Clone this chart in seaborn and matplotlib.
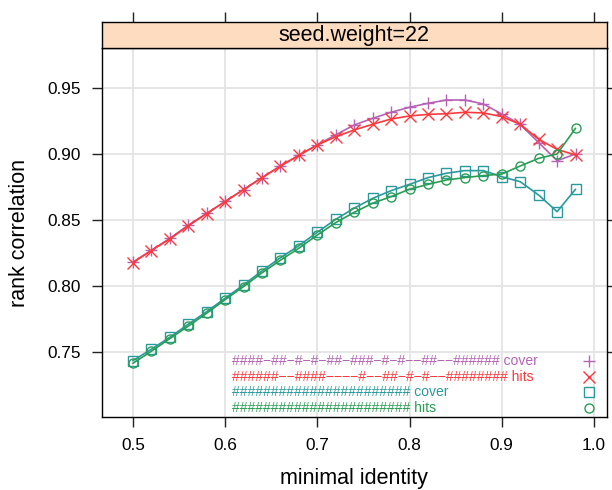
import matplotlib
matplotlib.use("Agg")
import matplotlib.pyplot as plt
import seaborn as sns
import pandas as pd
from matplotlib.ticker import FormatStrFormatter

# data (seed.weight=22)
identity = [0.50, 0.52, 0.54, 0.56, 0.58, 0.60, 0.62, 0.64, 0.66, 0.68,
            0.70, 0.72, 0.74, 0.76, 0.78, 0.80, 0.82, 0.84, 0.86, 0.88,
            0.90, 0.92, 0.94, 0.96, 0.98]
cover_gap = [0.818, 0.827, 0.836, 0.846, 0.855, 0.864, 0.873, 0.882, 0.891, 0.899,
             0.907, 0.9145, 0.922, 0.927, 0.9316, 0.9354, 0.9384, 0.9409, 0.9409, 0.9379,
             0.9303, 0.9225, 0.9086, 0.8949, 0.9000]
hits_gap = [0.8177, 0.8268, 0.8356, 0.8455, 0.8548, 0.8639, 0.8730, 0.8821, 0.8907, 0.8990,
            0.9068, 0.9131, 0.9182, 0.9225, 0.9265, 0.9288, 0.9300, 0.9305, 0.9316, 0.9311,
            0.9283, 0.9225, 0.9111, 0.9035, 0.8992]
cover_full = [0.7434, 0.7520, 0.7611, 0.7710, 0.7805, 0.7907, 0.8008, 0.8114, 0.8214, 0.8305,
              0.8407, 0.8505, 0.8589, 0.8664, 0.8722, 0.8770, 0.8821, 0.8854, 0.8874, 0.8874,
              0.8828, 0.8790, 0.8689, 0.8563, 0.8733]
hits_full = [0.7414, 0.7505, 0.7601, 0.7695, 0.7793, 0.7896, 0.7995, 0.8099, 0.8195, 0.8286,
             0.8386, 0.8480, 0.8558, 0.8627, 0.8677, 0.8733, 0.8770, 0.8803, 0.8821, 0.8836,
             0.8848, 0.8909, 0.8967, 0.9000, 0.9195]

labels = ["####−##−#−#−##−###−#−#−−##−−###### cover",
          "######−−####−−−−#−−##−#−#−−######## hits",
          "####################### cover",
          "####################### hits"]
colors = ["#b763b5", "#fb3a3e", "#2b9a9c", "#2a9d55"]
markers = ["+", "x", "s", "o"]
series = [cover_gap, hits_gap, cover_full, hits_full]

sns.set_style("white")
plt.rcParams["font.family"] = ["Liberation Sans", "DejaVu Sans"]
plt.rcParams["text.color"] = "black"
plt.rcParams["axes.labelcolor"] = "black"
plt.rcParams["xtick.color"] = "black"
plt.rcParams["ytick.color"] = "black"

fig = plt.figure(figsize=(6.12, 4.90), dpi=100)
ax = fig.add_axes([0.1667, 0.1484, 0.8247, 0.7531])
strip = fig.add_axes([0.1667, 0.9014, 0.8247, 0.0543])

for vals, col, mk in zip(series, colors, markers):
    df = pd.DataFrame({"identity": identity, "corr": vals})
    sns.lineplot(data=df, x="identity", y="corr", ax=ax, color=col, lw=1.2,
                 marker=mk, markersize=8.5 if mk in "+x" else 6.5,
                 mfc="none", mec=col, mew=1.0, legend=False)

ax.set_xlim(0.4666, 1.0138)
ax.set_ylim(0.7005, 0.9801)
ax.set_xticks([0.5, 0.6, 0.7, 0.8, 0.9, 1.0])
ax.set_yticks([0.75, 0.80, 0.85, 0.90, 0.95])
ax.yaxis.set_major_formatter(FormatStrFormatter("%.2f"))
ax.xaxis.set_major_formatter(FormatStrFormatter("%.1f"))
ax.grid(True, color="#e4e4e4", lw=1.3)
ax.set_axisbelow(True)
ax.tick_params(axis="both", which="both", direction="out", length=7.2, width=1,
               color="#222222", labelcolor="black", labelsize=12.4, pad=8,
               left=True, bottom=True, right=True, top=False,
               labelright=False, labeltop=False)
for sp in ax.spines.values():
    sp.set_color("black")
    sp.set_linewidth(1.0)

ax.set_xlabel("minimal identity", fontsize=15.5, color="black")
ax.set_ylabel("rank correlation", fontsize=15.5, color="black")
ax.xaxis.set_label_coords(0.5, -0.138)
ax.yaxis.set_label_coords(-0.1427, 0.5)

# key in the lower right corner
for i, (lab, col, mk) in enumerate(zip(labels, colors, markers)):
    yy = 0.1534 - i * 0.0430
    ax.text(0.2576, yy, lab, transform=ax.transAxes, color=col, fontsize=10.1,
            ha="left", va="center")
    ax.plot([0.9655], [yy], transform=ax.transAxes, marker=mk, color=col,
            mfc="none", mec=col, mew=1.0, ms=8 if mk in "+x" else 6.5, ls="none")

# strip on top
strip.set_xlim(ax.get_xlim())
strip.set_ylim(0, 1)
strip.set_facecolor("#fddcc0")
strip.set_xticks([0.5, 0.6, 0.7, 0.8, 0.9, 1.0])
strip.set_yticks([])
strip.tick_params(axis="x", direction="out", length=7.2, width=1, color="#222222",
                  top=True, bottom=False, labeltop=False, labelbottom=False)
for sp in strip.spines.values():
    sp.set_color("black")
    sp.set_linewidth(1.0)
strip.text(0.5, 0.5, "seed.weight=22", transform=strip.transAxes, fontsize=15.5,
           ha="center", va="center", color="black")

fig.savefig("out.png", dpi=100)
